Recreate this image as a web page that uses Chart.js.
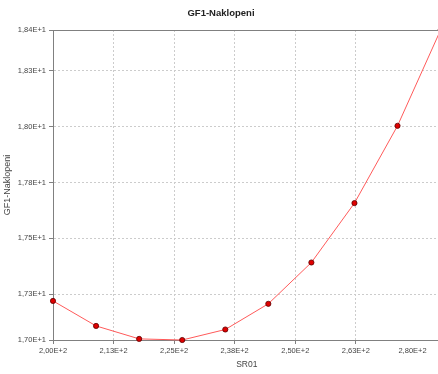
<!DOCTYPE html>
<html>
<head>
<meta charset="utf-8">
<script src="https://cdn.jsdelivr.net/npm/chart.js@4/dist/chart.umd.min.js"></script>
<style>
  html, body { margin: 0; padding: 0; background: #ffffff; overflow: hidden; width: 438px; height: 374px; }
  #wrap { width: 438px; height: 374px; overflow: hidden; position: relative; }
  canvas { display: block; }
</style>
</head>
<body>
<div id="wrap"><canvas id="chart" width="444" height="374"></canvas></div>
<script>
// SR01 sweep and measured GF1 tilt
const sr01 = [200, 208.89, 217.78, 226.67, 235.56, 244.44, 253.33, 262.22, 271.11, 280];
const naklopeni = [17.220, 17.108, 17.050, 17.045, 17.092, 17.207, 17.392, 17.658, 18.004, 18.433];

// tick values (axis bounds are the data extremes)
const xTickValues = [200, 212.5, 225, 237.5, 250, 262.5];
const yInnerTicks = [17.25, 17.5, 17.75, 18.0, 18.25];

const yMin = Math.min(...naklopeni);
const yMax = Math.max(...naklopeni);
const xMin = Math.min(...sr01);
const xMax = Math.max(...sr01);
const yTickValues = [yMin, ...yInnerTicks, yMax];

const FONT = "'Liberation Sans', Arial, sans-serif";
const TICK_COLOR = '#444444';
const TICK_FONT = { family: FONT, size: 7.5 };

// "1,73E+1" style labels: two-decimal mantissa, comma separator
function sci(v, exp) {
  const n = Math.round(v * 100 / Math.pow(10, exp));
  return (n / 100).toFixed(2).replace('.', ',') + 'E+' + exp;
}

const points = sr01.map((x, i) => ({ x: x, y: naklopeni[i] }));

// top frame line and the label at the end of the SR01 axis
const frame = {
  id: 'frame',
  afterDraw(chart) {
    const { ctx, chartArea: a, scales: { x } } = chart;
    ctx.save();
    ctx.strokeStyle = '#808080';
    ctx.lineWidth = 1;
    ctx.beginPath();
    ctx.moveTo(a.left, Math.round(a.top) + 0.5);
    ctx.lineTo(a.right, Math.round(a.top) + 0.5);
    ctx.stroke();
    ctx.fillStyle = TICK_COLOR;
    ctx.font = TICK_FONT.size + 'px ' + FONT;
    ctx.textAlign = 'right';
    ctx.textBaseline = 'middle';
    ctx.fillText(sci(x.max, 2), a.right - 14, a.bottom + 10.5);
    ctx.restore();
  }
};

new Chart(document.getElementById('chart'), {
  type: 'line',
  data: {
    datasets: [{
      data: points,
      borderColor: '#ff5a5a',
      borderWidth: 1,
      tension: 0,
      fill: false,
      clip: false,
      pointRadius: 2.6,
      pointHoverRadius: 2.6,
      pointBackgroundColor: '#e00000',
      pointBorderColor: '#5a0000',
      pointBorderWidth: 0.8
    }]
  },
  plugins: [frame],
  options: {
    responsive: false,
    animation: false,
    events: [],
    layout: { padding: { left: 0, right: 2, top: 0, bottom: 0 } },
    plugins: {
      legend: { display: false },
      tooltip: { enabled: false },
      title: {
        display: true,
        text: 'GF1-Naklopeni',
        color: '#222222',
        font: { family: FONT, size: 9.5, weight: 'bold' },
        padding: { top: 8, bottom: 10.6 }
      }
    },
    scales: {
      x: {
        type: 'linear',
        min: xMin,
        max: xMax,
        afterBuildTicks: (s) => { s.ticks = xTickValues.map(v => ({ value: v })); },
        afterFit: (s) => { s.height = 34; },
        ticks: {
          color: TICK_COLOR,
          font: TICK_FONT,
          padding: 2,
          maxRotation: 0,
          autoSkip: false,
          callback: (v) => sci(v, 2)
        },
        grid: {
          color: '#cccccc',
          lineWidth: 1,
          tickLength: 4,
          tickColor: '#808080'
        },
        border: { display: true, color: '#808080', width: 1, dash: [2, 2] },
        title: {
          display: true,
          text: 'SR01',
          color: TICK_COLOR,
          font: { family: FONT, size: 8.5 },
          padding: { top: 0, bottom: 4 }
        }
      },
      y: {
        type: 'linear',
        min: yMin,
        max: yMax,
        afterBuildTicks: (s) => { s.ticks = yTickValues.map(v => ({ value: v })); },
        afterFit: (s) => { s.width = 53; },
        ticks: {
          color: TICK_COLOR,
          font: TICK_FONT,
          padding: 3,
          autoSkip: false,
          callback: (v) => sci(v, 1)
        },
        grid: {
          color: '#cccccc',
          lineWidth: 1,
          tickLength: 4,
          tickColor: '#808080'
        },
        border: { display: true, color: '#808080', width: 1, dash: [2, 2] },
        title: {
          display: true,
          text: 'GF1-Naklopeni',
          color: TICK_COLOR,
          font: { family: FONT, size: 9 },
          padding: { top: 2, bottom: 2 }
        }
      }
    }
  }
});
</script>
</body>
</html>
